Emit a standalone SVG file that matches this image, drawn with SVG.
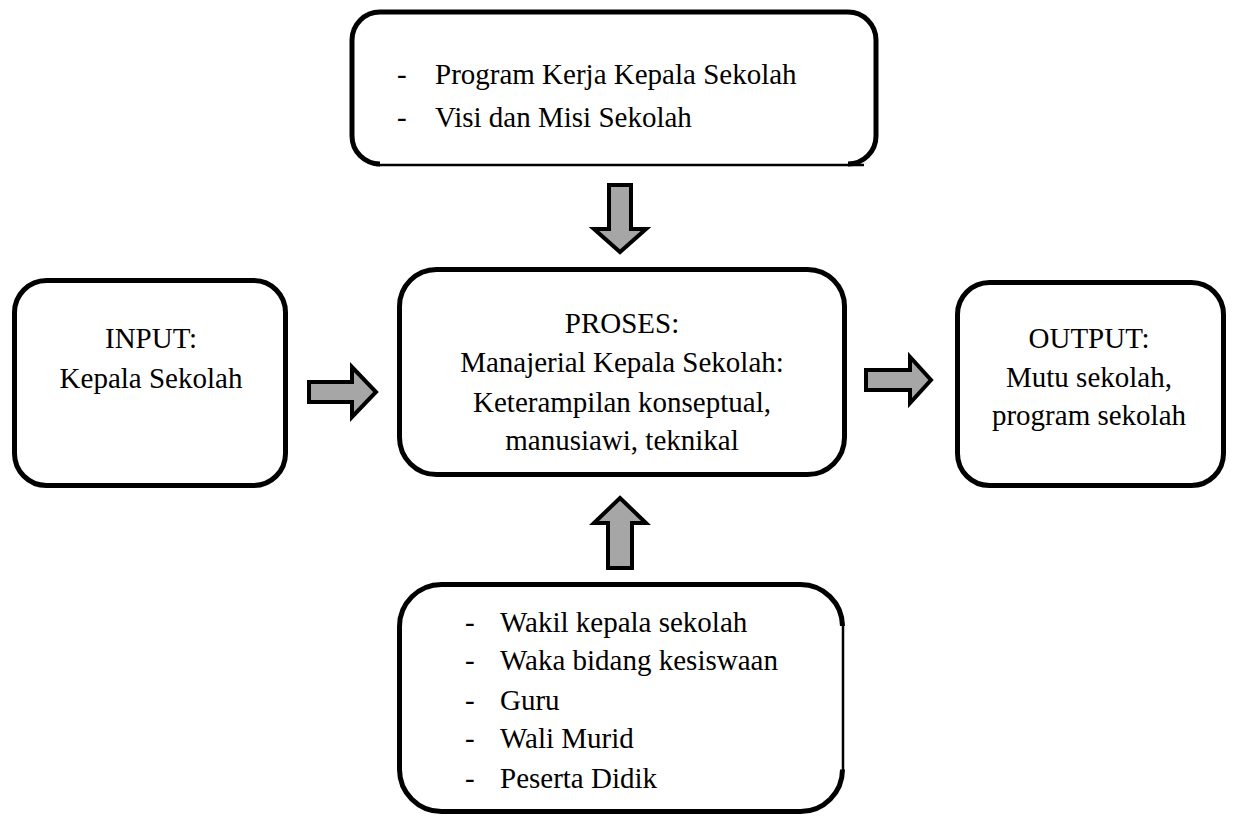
<svg xmlns="http://www.w3.org/2000/svg" width="1238" height="816" viewBox="0 0 1238 816">
<style>
.box{fill:#ffffff;stroke:#000;stroke-width:5}
.edge{fill:none;stroke:#000;stroke-width:5}
.thin{fill:none;stroke:#000;stroke-width:2.5}
.arr{fill:#a6a6a6;stroke:#000;stroke-width:4;stroke-linejoin:miter}
text{font-family:"Liberation Serif","Times New Roman",serif;font-size:29px;fill:#000}
.c{text-anchor:middle}
</style>
<rect width="1238" height="816" fill="#ffffff"/>
<g id="top-box">
<path class="edge" d="M 380 164 A 28 28 0 0 1 352 136 L 352 40 A 28 28 0 0 1 380 12 L 848 12 A 28 28 0 0 1 876 40 L 876 136 A 28 28 0 0 1 848 164"/>
<line class="thin" x1="376" y1="165" x2="864" y2="165"/>
<text x="397" y="84">-</text><text x="435" y="84">Program Kerja Kepala Sekolah</text>
<text x="397" y="127">-</text><text x="435" y="127">Visi dan Misi Sekolah</text>
</g>
<g id="input-box">
<rect class="box" x="14.5" y="280.5" width="271" height="205" rx="32"/>
<text class="c" x="151" y="348">INPUT:</text>
<text class="c" x="151" y="388">Kepala Sekolah</text>
</g>
<g id="process-box">
<rect class="box" x="399.5" y="269.5" width="445" height="205" rx="37"/>
<text class="c" x="622" y="333">PROSES:</text>
<text class="c" x="622" y="372">Manajerial Kepala Sekolah:</text>
<text class="c" x="622" y="412">Keterampilan konseptual,</text>
<text class="c" x="622" y="450">manusiawi, teknikal</text>
</g>
<g id="output-box">
<rect class="box" x="957.5" y="282.5" width="266" height="203" rx="32"/>
<text class="c" x="1089" y="348">OUTPUT:</text>
<text class="c" x="1089" y="387">Mutu sekolah,</text>
<text class="c" x="1089" y="425">program sekolah</text>
</g>
<g id="bottom-box">
<path class="edge" d="M 842.5 626 A 42 42 0 0 0 800.5 584.5 L 441.5 584.5 A 42 42 0 0 0 399.5 626.5 L 399.5 769.5 A 42 42 0 0 0 441.5 811.5 L 800.5 811.5 A 42 42 0 0 0 842.5 769.5"/>
<line class="thin" x1="843" y1="622" x2="843" y2="772"/>
<text x="465" y="632">-</text><text x="500" y="632">Wakil kepala sekolah</text>
<text x="465" y="670">-</text><text x="500" y="670">Waka bidang kesiswaan</text>
<text x="465" y="710">-</text><text x="500" y="710">Guru</text>
<text x="465" y="748">-</text><text x="500" y="748">Wali Murid</text>
<text x="465" y="788">-</text><text x="500" y="788">Peserta Didik</text>
</g>
<g id="connectors">
<polygon class="arr" points="609,185 631,185 631,229 646,229 620,252 594,229 609,229"/>
<polygon class="arr" points="620,498 646,523 632,523 632,568 608,568 608,523 594,523"/>
<polygon class="arr" points="309,382 352,382 352,367 376,392 352,417 352,402 309,402"/>
<polygon class="arr" points="866,370 910,370 910,357 931,380 910,403 910,390 866,390"/>
</g>
</svg>
